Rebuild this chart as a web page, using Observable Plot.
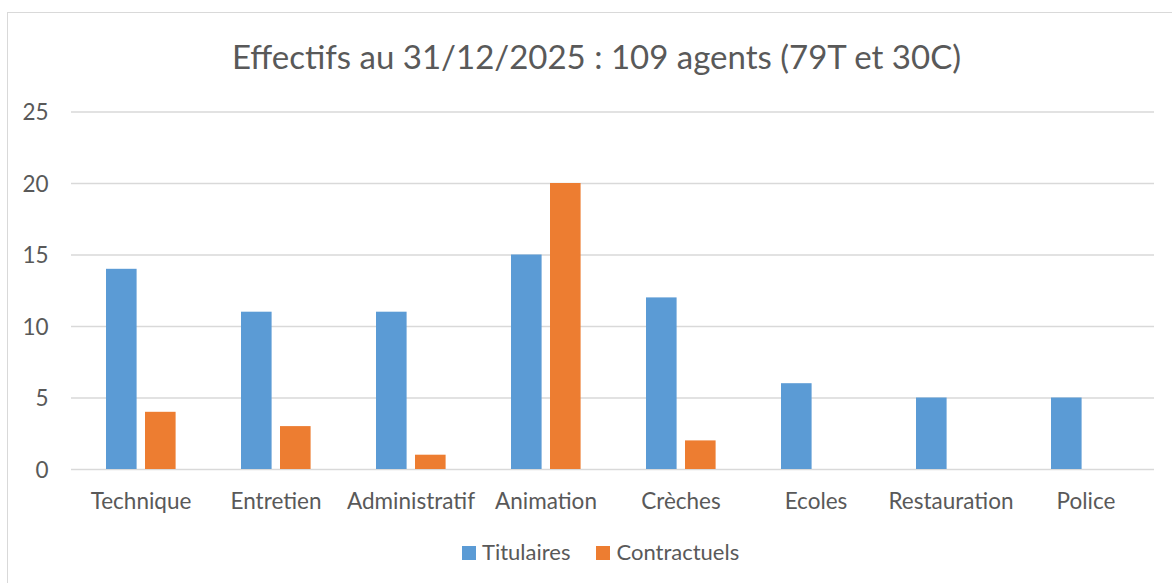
<!DOCTYPE html>
<html><head><meta charset="utf-8">
<script src="https://cdn.jsdelivr.net/npm/d3@7"></script>
<script src="https://cdn.jsdelivr.net/npm/@observablehq/plot@0.6"></script>
<style>
body{margin:0;background:#fff;font-family:Lato, sans-serif;}
#wrap{position:relative;width:1172px;height:583px;overflow:hidden;background:#fff;}
#frame{position:absolute;left:7px;top:12px;width:1220px;height:640px;border:1px solid #d9d9d9;box-sizing:border-box;}
#title{position:absolute;left:0;width:1193px;top:37px;text-align:center;font-size:33px;line-height:1.2;color:#595959;white-space:nowrap;}
#chart{position:absolute;left:0;top:0;}
#legend{position:absolute;top:539px;left:462px;font-size:22px;line-height:1.2;color:#595959;display:flex;align-items:center;white-space:nowrap;}
#legend .sw{display:inline-block;width:14px;height:14px;margin-right:6px;position:relative;top:1px;}
#legend .item{display:flex;align-items:center;}
</style>
</head><body>
<div id="wrap">
<div id="frame"></div>
<div id="title"></div>
<div id="chart"></div>
<div id="legend"></div>
</div>
<script>
const titleText = "Effectifs au 31/12/2025 : 109 agents (79T et 30C)";
const categories = ["Technique","Entretien","Administratif","Animation","Crèches","Ecoles","Restauration","Police"];
const titulaires = [14, 11, 11, 15, 12, 6, 5, 5];
const contractuels = [4, 3, 1, 20, 2, 0, 0, 0];
const seriesNames = ["Titulaires", "Contractuels"];
const seriesColors = ["#5B9BD5", "#ED7D31"];
const yTicks = [0, 5, 10, 15, 20, 25];

const dataT = categories.map((c, i) => ({cat: c, v: titulaires[i]}));
const dataC = categories.map((c, i) => ({cat: c, v: contractuels[i]})).filter(d => d.v > 0);

document.getElementById("title").textContent = titleText;

const plot = Plot.plot({
  width: 1172,
  height: 583,
  marginLeft: 71,
  marginRight: 18,
  marginTop: 111.5,
  marginBottom: 114,
  style: {fontFamily: "Lato, sans-serif", fontSize: "22.5px", color: "#595959", background: "transparent"},
  x: {domain: categories, padding: 0, label: null},
  y: {domain: [0, 25], label: null},
  marks: [
    Plot.ruleY(yTicks, {stroke: "#d9d9d9", strokeWidth: 1.3}),
    Plot.barY(dataT, {x: "cat", y: "v", fill: seriesColors[0], insetLeft: 33, insetRight: 71.4}),
    Plot.barY(dataC, {x: "cat", y: "v", fill: seriesColors[1], insetLeft: 72, insetRight: 32.4}),
    Plot.axisY(yTicks, {tickSize: 0, tickPadding: 23, label: null, fill: "#595959", fontSize: 22.5, dy: 1}),
    Plot.axisX({tickSize: 0, tickPadding: 24, label: null, fill: "#595959", fontSize: 22.5})
  ]
});
document.getElementById("chart").appendChild(plot);

const legend = document.getElementById("legend");
seriesNames.forEach((n, i) => {
  const item = document.createElement("span");
  item.className = "item";
  if (i > 0) item.style.marginLeft = "26px";
  const sw = document.createElement("span");
  sw.className = "sw";
  sw.style.background = seriesColors[i];
  item.appendChild(sw);
  item.appendChild(document.createTextNode(n));
  legend.appendChild(item);
});
</script>
</body></html>
